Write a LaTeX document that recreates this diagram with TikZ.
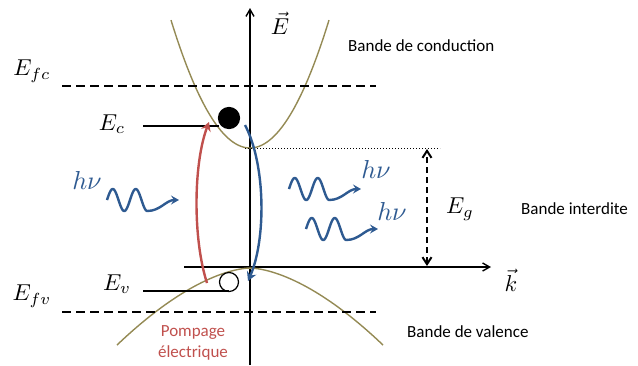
\documentclass[tikz,border=0pt]{standalone}
\usepackage{fontspec}
\setmainfont{Carlito}
\usetikzlibrary{arrows.meta}
\definecolor{olivec}{HTML}{948A54}
\definecolor{redc}{HTML}{C0504D}
\definecolor{bluec}{HTML}{2E5A91}
\tikzset{
  axis/.style={line width=1.4pt,-{Straight Barb[length=7pt,width=8pt]}},
  band/.style={olivec,line width=1.4pt},
  fermi/.style={line width=2.2pt,dash pattern=on 9pt off 5pt},
  level/.style={line width=1.4pt},
  mlab/.style={scale=2.3,inner sep=1pt},
  hlab/.style={scale=2.6,inner sep=1pt,bluec},
  tlab/.style={font=\fontsize{17}{20}\selectfont,anchor=west,inner sep=0pt},
  transit/.style={line width=2.4pt,-{Stealth[length=9pt,width=10pt,inset=3pt]}},
  wave/.style={bluec,line width=2.4pt,-{Stealth[length=8pt,width=9pt,inset=3pt]}},
  photon/.pic={\draw[wave] plot[domain=0:40.25,samples=60,smooth] (\x,{-11*sin(\x*360/23)}) to[out=0,in=180] (72,0);}
}
\begin{document}
\begin{tikzpicture}[x=1pt,y=-1pt]
\useasboundingbox (0,0) rectangle (638,365);
% axes
\coordinate (eb) at (250,365);
\coordinate (et) at (250,8);
\coordinate (kl) at (184,267);
\coordinate (kr) at (491,267);
\draw[axis] (eb) -- (et);
\draw[axis] (kl) -- (kr);
\node[mlab] (Elab) at (280,23) {$\vec{E}$};
\node[mlab] (klab) at (511,280) {$\vec{k}$};
% bands
\draw[band] plot[domain=-79:79,samples=80,smooth] ({250+\x},{148-0.0205*\x*\x});
\draw[band] plot[domain=-133:133,samples=80,smooth] ({250+\x},{268+0.0246*pow(abs(\x),1.646)});
% Fermi levels
\coordinate (fcL) at (62,86);
\coordinate (fcR) at (376,86);
\coordinate (fvL) at (62,312);
\coordinate (fvR) at (376,312);
\draw[fermi] (fcL) -- (fcR);
\draw[fermi] (fvL) -- (fvR);
\node[mlab] (Efc) at (32,71) {$E_{fc}$};
\node[mlab] (Efv) at (32,296) {$E_{fv}$};
% carriers
\node[circle,fill=black,draw=black,line width=1.2pt,minimum size=21pt,inner sep=0pt] (el) at (229,118) {};
\node[circle,fill=white,draw=black,line width=1.2pt,minimum size=19pt,inner sep=0pt] (ho) at (229,282) {};
\coordinate (ecL) at (143,126);
\coordinate (ecR) at (219,126);
\coordinate (evL) at (143,291);
\draw[level] (ecL) -- (ecR);
\draw[level] (evL) -- (evL -| ho.south);
\node[mlab] (Ec) at (112,124) {$E_c$};
\node[mlab] (Ev) at (117,284) {$E_v$};
% gap
\coordinate (gs) at (245,148);
\coordinate (ge) at (440,148);
\draw[line width=1pt,dotted] (gs) -- (ge);
\coordinate (gt) at (427,149);
\coordinate (gb) at (427,266);
\draw[line width=2pt,dash pattern=on 6pt off 4pt,{Straight Barb[length=7pt,width=9pt]}-{Straight Barb[length=7pt,width=9pt]}] (gb) -- (gt);
\node[mlab] (Eg) at (460,209) {$E_g$};
% transitions
\coordinate (rs) at (207,283);
\coordinate (re) at (209,122);
\draw[transit,redc] (rs) .. controls (193,240) and (193,165) .. (re);
\coordinate (bs) at (245,125);
\coordinate (be) at (248,281);
\draw[transit,bluec] (bs) .. controls (266,165) and (266,240) .. (be);
% photons
\pic (w1) at (107,200) {photon};
\pic (w2) at (289,189) {photon};
\pic (w3) at (306,229) {photon};
\node[hlab] (h1) at (87,180) {$h\nu$};
\node[hlab] (h2) at (376,169) {$h\nu$};
\node[hlab] (h3) at (392,211) {$h\nu$};
% texts
\node[tlab] (tc) at (348,46) {Bande de conduction};
\node[tlab] (ti) at (521,209) {Bande interdite};
\node[tlab] (tv) at (407,332) {Bande de valence};
\node[font=\fontsize{17}{21}\selectfont,text=redc,align=center,inner sep=0pt] (pe) at (193,343) {Pompage\\électrique};
\end{tikzpicture}
\end{document}
